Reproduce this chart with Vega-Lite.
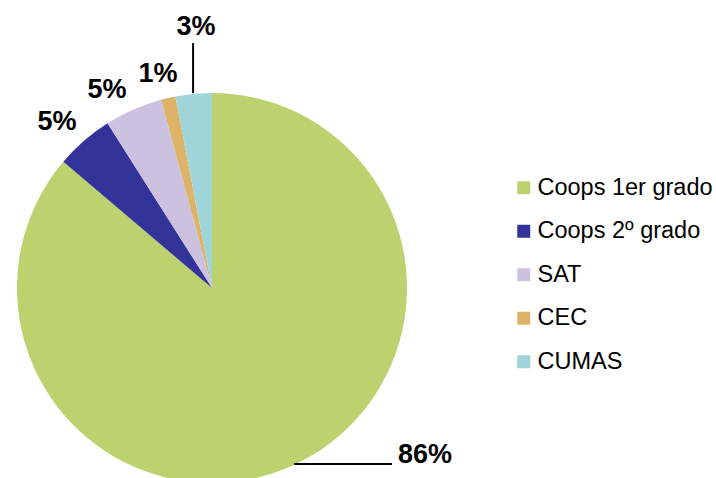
{
  "$schema": "https://vega.github.io/schema/vega-lite/v6.json",
  "width": 424,
  "height": 576,
  "autosize": {"type": "none"},
  "padding": {"left": 0, "top": 0, "right": 292, "bottom": 0},
  "background": "white",
  "config": {"view": {"stroke": null}, "font": "Liberation Sans"},
  "datasets": {
    "slices": [
      {"categoria": "Coops 1er grado", "valor": 86.2, "orden": 1, "etiqueta": "86%", "lx": 1.092, "ly": -0.856},
      {"categoria": "Coops 2º grado", "valor": 4.8, "orden": 2, "etiqueta": "5%", "lx": -0.795, "ly": 0.851},
      {"categoria": "SAT", "valor": 4.8, "orden": 3, "etiqueta": "5%", "lx": -0.538, "ly": 1.015},
      {"categoria": "CEC", "valor": 1.2, "orden": 4, "etiqueta": "1%", "lx": -0.277, "ly": 1.097},
      {"categoria": "CUMAS", "valor": 3.0, "orden": 5, "etiqueta": "3%", "lx": -0.082, "ly": 1.338}
    ],
    "leaders": [
      {"x1": 0.421, "y1": -0.903, "x2": 0.923, "y2": -0.903},
      {"x1": -0.097, "y1": 1.0, "x2": -0.097, "y2": 1.256}
    ]
  },
  "layer": [
    {
      "data": {"name": "slices"},
      "mark": {"type": "arc", "outerRadius": 195},
      "encoding": {
        "theta": {"field": "valor", "type": "quantitative", "stack": true},
        "order": {"field": "orden", "type": "quantitative"},
        "color": {
          "field": "categoria",
          "type": "nominal",
          "scale": {
            "domain": ["Coops 1er grado", "Coops 2º grado", "SAT", "CEC", "CUMAS"],
            "range": ["#BCD26E", "#333399", "#CCC1DF", "#DDB369", "#9FD5D9"]
          },
          "legend": {
            "orient": "none",
            "legendX": 512,
            "legendY": 176,
            "title": null,
            "symbolType": "square",
            "symbolSize": 169,
            "symbolStrokeWidth": 0,
            "labelFontSize": 23.5,
            "labelFont": "Liberation Sans",
            "labelColor": "black",
            "labelOffset": 2,
            "rowPadding": 18.5,
            "labelLimit": 300
          }
        }
      }
    },
    {
      "data": {"name": "leaders"},
      "mark": {"type": "rule", "color": "black", "strokeWidth": 2},
      "encoding": {
        "x": {"field": "x1", "type": "quantitative", "scale": {"domain": [-1.087, 1.087], "nice": false, "zero": false}, "axis": null},
        "y": {"field": "y1", "type": "quantitative", "scale": {"domain": [-1.477, 1.477], "nice": false, "zero": false}, "axis": null},
        "x2": {"field": "x2"},
        "y2": {"field": "y2"}
      }
    },
    {
      "data": {"name": "slices"},
      "mark": {"type": "text", "fontSize": 27, "fontWeight": "bold", "color": "black", "font": "Liberation Sans"},
      "encoding": {
        "x": {"field": "lx", "type": "quantitative", "axis": null},
        "y": {"field": "ly", "type": "quantitative", "axis": null},
        "text": {"field": "etiqueta"}
      }
    }
  ]
}
